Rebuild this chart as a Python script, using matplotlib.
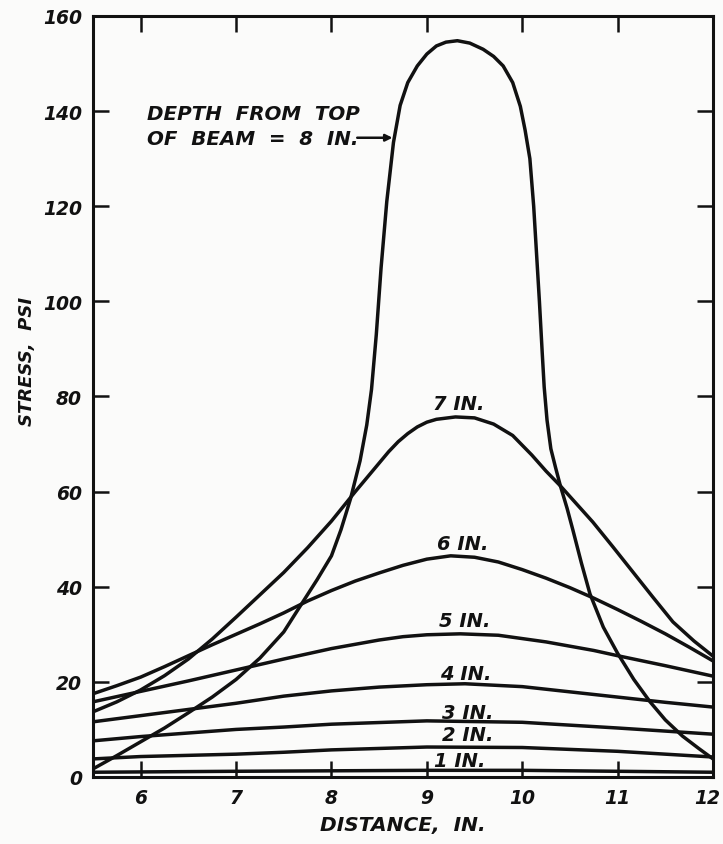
import matplotlib
matplotlib.use('Agg')
import matplotlib.pyplot as plt
import matplotlib.transforms as mtransforms
import numpy as np

# values (distance in inches, stress in psi)
x_1in = [5.5, 7.0, 9.0, 10.0, 11.0, 12.0]
y_1in = [1.0, 1.2, 1.4, 1.4, 1.2, 1.0]

x_2in = [5.5, 6.0, 7.0, 7.5, 8.0, 9.0, 10.0, 11.0, 12.0]
y_2in = [3.8, 4.3, 4.8, 5.2, 5.7, 6.3, 6.2, 5.4, 4.2]

x_3in = [5.5, 6.0, 7.0, 7.5, 8.0, 9.0, 10.0, 11.0, 12.0]
y_3in = [7.6, 8.5, 10.0, 10.5, 11.1, 11.8, 11.5, 10.3, 9.0]

x_4in = [5.5, 6.0, 6.5, 7.0, 7.5, 8.0, 8.5, 9.0, 9.4, 10.0, 10.5, 11.0, 11.5, 12.0]
y_4in = [11.6, 12.9, 14.2, 15.5, 17.0, 18.1, 18.9, 19.4, 19.6, 19.0, 17.9, 16.8, 15.7, 14.7]

x_5in = [5.5, 6.0, 6.5, 7.0, 7.5, 8.0, 8.5, 8.75, 9.0, 9.35, 9.75, 10.25,
         10.75, 11.0, 11.5, 12.0]
y_5in = [15.8, 18.0, 20.2, 22.5, 24.8, 27.0, 28.8, 29.5, 29.9, 30.1, 29.8, 28.4,
         26.6, 25.5, 23.4, 21.2]

x_6in = [5.5, 5.75, 6.0, 6.25, 6.5, 6.75, 7.0, 7.25, 7.5, 7.75, 8.0, 8.25, 8.5,
         8.75, 9.0, 9.25, 9.5, 9.75, 10.0, 10.25, 10.5, 10.75, 11.0, 11.25,
         11.5, 11.75, 12.0]
y_6in = [17.5, 19.2, 21.0, 23.2, 25.5, 27.8, 30.0, 32.2, 34.5, 37.0, 39.2, 41.2,
         42.9, 44.5, 45.8, 46.5, 46.2, 45.2, 43.6, 41.8, 39.8, 37.6, 35.2, 32.7,
         30.1, 27.3, 24.4]

x_7in = [5.5, 5.75, 6.0, 6.25, 6.5, 6.75, 7.0, 7.25, 7.5, 7.75, 8.0, 8.25, 8.5,
         8.6, 8.7, 8.8, 8.9, 9.0, 9.1, 9.3, 9.5, 9.7, 9.9, 10.1, 10.25, 10.4,
         10.57, 10.74, 10.95, 11.16, 11.37, 11.58, 11.8, 12.0]
y_7in = [13.7, 15.8, 18.3, 21.3, 24.8, 29.0, 33.6, 38.3, 43.0, 48.2, 53.8, 60.0,
         66.0, 68.4, 70.5, 72.2, 73.6, 74.6, 75.2, 75.7, 75.5, 74.2, 71.8, 67.7,
         64.3, 61.2, 57.4, 53.6, 48.4, 43.1, 37.8, 32.6, 28.6, 25.4]

x_8in = [5.5, 5.75, 6.0, 6.25, 6.5, 6.75, 7.0, 7.25, 7.5, 7.7, 7.85, 8.0, 8.1,
         8.2, 8.3, 8.37, 8.42, 8.47, 8.52, 8.58, 8.65, 8.72, 8.8, 8.9, 9.0, 9.1,
         9.2, 9.32, 9.45, 9.59, 9.7, 9.8, 9.9, 9.98, 10.03, 10.08, 10.12, 10.15,
         10.18, 10.21, 10.23, 10.26, 10.3, 10.35, 10.4, 10.47, 10.53, 10.62,
         10.71, 10.85, 11.0, 11.17, 11.34, 11.5, 11.68, 11.85, 12.0]
y_8in = [1.7, 4.5, 7.4, 10.3, 13.5, 16.8, 20.5, 25.0, 30.5, 36.8, 41.5, 46.5,
         52.0, 58.5, 66.5, 74.0, 81.5, 93.0, 107.0, 121.0, 133.4, 141.2, 146.0,
         149.5, 152.0, 153.7, 154.5, 154.8, 154.3, 153.0, 151.5, 149.5, 146.0,
         141.0, 136.0, 130.0, 120.0, 110.0, 100.0, 89.0, 82.0, 75.0, 69.0, 65.0,
         61.2, 56.5, 52.0, 45.0, 38.5, 31.5, 26.0, 20.5, 15.8, 12.0, 8.6, 6.0, 3.8]

curves = [(x_1in, y_1in), (x_2in, y_2in), (x_3in, y_3in), (x_4in, y_4in),
          (x_5in, y_5in), (x_6in, y_6in), (x_7in, y_7in), (x_8in, y_8in)]

curve_labels = ['1 IN.', '2 IN.', '3 IN.', '4 IN.', '5 IN.', '6 IN.', '7 IN.']
label_x = [9.34, 9.43, 9.43, 9.41, 9.40, 9.38, 9.33]
label_y = [3.4, 8.9, 13.6, 21.7, 33.0, 49.1, 78.5]

x_ticks = [6, 7, 8, 9, 10, 11, 12]
y_ticks = [0, 20, 40, 60, 80, 100, 120, 140, 160]

ink = '#111111'
font = dict(family='DejaVu Sans', style='italic', weight='bold', color=ink)

f = plt.figure(figsize=(7.23, 8.45), dpi=100)
f.patch.set_facecolor('#fbfbfa')
ax = f.add_axes([0.1286, 0.0793, 0.8576, 0.9006])
ax.set_facecolor('#fbfbfa')

for xs, ys in curves:
    ax.plot(xs, ys, color=ink, lw=2.5, solid_joinstyle='round')

for lab, lx, ly in zip(curve_labels, label_x, label_y):
    ax.text(lx, ly, lab, ha='center', va='center', fontsize=14, **font)

ax.text(6.07, 139.6, 'DEPTH  FROM  TOP', ha='left', va='center',
        fontsize=14.3, **font)
ax.text(6.07, 134.2, 'OF  BEAM  =  8  IN.', ha='left', va='center',
        fontsize=14.3, **font)
ax.annotate('', xy=(8.64, 134.4), xytext=(8.27, 134.4),
            arrowprops=dict(arrowstyle='-|>', color=ink, lw=1.8,
                            mutation_scale=10, shrinkA=0, shrinkB=0))

ax.set_xlim(5.5, 12)
ax.set_ylim(0, 160)
ax.set_xticks(x_ticks)
ax.set_yticks(y_ticks)
ax.set_xticklabels([str(t) for t in x_ticks], fontsize=13.5, **font)
ax.set_yticklabels([str(t) for t in y_ticks], fontsize=13.5, **font)
ax.tick_params(direction='in', length=11.5, width=1.8, top=True, right=True,
               color=ink, pad=8)
for s in ax.spines.values():
    s.set_linewidth(2.2)
    s.set_color(ink)

# last x label sits against the figure edge in the original
last = ax.get_xticklabels()[-1]
last.set_transform(last.get_transform() +
                   mtransforms.ScaledTranslation(-6 / 100, 0, f.dpi_scale_trans))

ax.set_xlabel('DISTANCE,  IN.', fontsize=14.5, labelpad=6, **font)
ax.set_ylabel('STRESS,  PSI', fontsize=13, **font)
ax.yaxis.set_label_coords(-0.092, 0.547)

f.savefig('out.png', dpi=100, facecolor=f.get_facecolor())
